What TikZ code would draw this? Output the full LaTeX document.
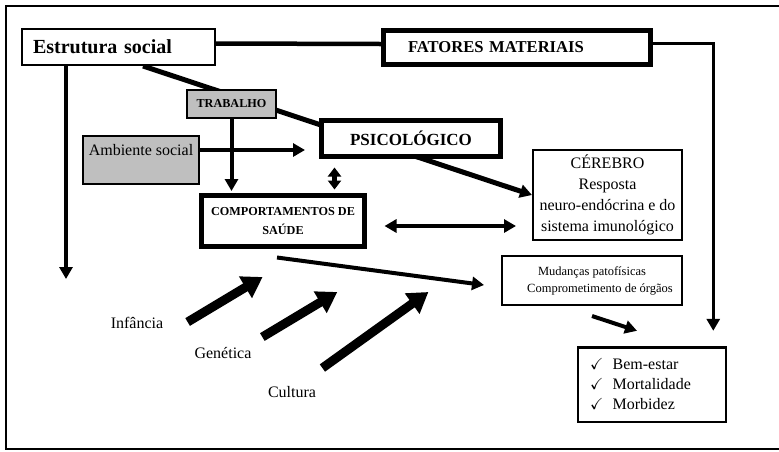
\documentclass[tikz,border=0pt]{standalone}
\usepackage{amssymb}
\usepackage{fontspec}
\setmainfont{Liberation Serif}
\usetikzlibrary{arrows.meta,calc,backgrounds}

\begin{document}
\begin{tikzpicture}[x=0.5pt,y=-0.5pt,>={Triangle[length=6pt,width=6.5pt]},
                    box/.style={draw,line width=1pt,fill=white,inner sep=0pt},
                    heavybox/.style={draw,line width=2.5pt,fill=white,inner sep=0pt},
                    greybox/.style={box,fill=black!25},
                    link/.style={line width=2.25pt},
                    factor/.style={inner sep=0pt,font=\fontsize{8}{10}\selectfont},
                    bigarrow/.style={line width=4.5pt,-{Triangle[length=10pt,width=12pt]}}]

 \useasboundingbox (0,0) rectangle (779,451);
 \draw [line width=0.75pt] (779,6) -- (6,6) -- (6,449) -- (779,449);

 \node [box,minimum height=18pt,text width=85.5pt,inner xsep=5.5pt,align=left,
        font=\fontsize{10}{12}\selectfont\bfseries] (est) at (118.5,47) {Estrutura social};
 \node [heavybox,minimum height=17pt,text width=109pt,inner xsep=12.25pt,align=left,
        font=\fontsize{8.3}{10}\selectfont\bfseries] (fat) at (517,47.5) {FATORES MATERIAIS};
 \node [greybox,minimum width=44.5pt,minimum height=14pt,
        font=\fontsize{6.1}{7}\selectfont\bfseries] (tra) at (231.5,104) {TRABALHO};
 \node [greybox,minimum width=58pt,inner ysep=3pt,text height=6.5pt,text depth=11.5pt,
        font=\fontsize{8}{10}\selectfont] (amb) at (141,160) {Ambiente social};
 \node [heavybox,minimum width=89.5pt,minimum height=18pt,
        font=\fontsize{8.5}{10}\selectfont\bfseries] (psi) at (411,138.5) {PSICOLÓGICO};
 \node [heavybox,minimum width=81.5pt,minimum height=25.5pt,align=center,
        font=\fontsize{6.1}{9.5}\selectfont\bfseries] (comp) at (283,221) {COMPORTAMENTOS DE\\SAÚDE};
 \node [box,minimum width=74.5pt,minimum height=45pt,align=center,
        font=\fontsize{8}{10.5}\selectfont] (cer) at (607.5,195)
       {CÉREBRO\\Resposta\\neuro-endócrina e do\\sistema imunológico};
 \node [box,minimum width=90pt,minimum height=24.5pt,align=center,
        font=\fontsize{6.25}{8.5}\selectfont] (mud) at (592,280.5)
       {Mudanças patofísicas\\\hspace{8pt}Comprometimento de órgãos};
 \node [box,line width=1.25pt,minimum height=37.25pt,text width=62pt,inner xsep=5.9pt,
        align=left,font=\fontsize{8}{10}\selectfont] (bem) at (652,384.5)
       {$\checkmark$\hspace{2pt} Bem-estar\\$\checkmark$\hspace{2pt} Mortalidade\\$\checkmark$\hspace{2pt} Morbidez};

 \node [factor] (inf) at (137,323) {Infância};
 \node [factor] (gen) at (223,353) {Genética};
 \node [factor] (cul) at (292,392) {Cultura};

 \coordinate (lf) at (66,279);

 \begin{scope}[on background layer]
  \draw [link] ([yshift=1.75pt]est.east) -- ([yshift=1.75pt]fat.west);
  \draw [link,line width=2.5pt,->] ($(est.south)+(12.25pt,0)$) -- (cer.west);
 \end{scope}

 \draw [link,line width=1.75pt,->] ([yshift=2pt]fat.east) -| ($(bem.north east)+(-6.9pt,7.6pt)$);
 \draw [link,->] (est.south -| lf) -- (lf);
 \draw [link,->] ($(amb.east)+(0,5pt)$) -- ($(amb.east -| psi.west)+(-7pt,5pt)$);
 \draw [link,line width=2pt,->,shorten >=1pt] (tra.south) -- (tra.south |- comp.north);
 \draw [link,line width=2.25pt,{Triangle[length=4.5pt,width=6.5pt]}-{Triangle[length=4.5pt,width=6.5pt]}]
       ($(psi.south west)+(7.75pt,-4.25pt)$)
       -- ($(psi.south west |- comp.north)+(7.75pt,1.75pt)$);
 \draw [link,line width=2pt,<->] ($(comp.east)+(8.75pt,-2.5pt)$)
       -- ($(comp.east -| cer.west)+(-8pt,-2.5pt)$);
 \draw [link,line width=2pt,->] ($(comp.south)+(-3pt,-4.25pt)$) -- ($(mud.west)+(-8.5pt,-2.25pt)$);
 \draw [link,line width=2pt,->] ($(mud.south)+(0,-5pt)$) -- ($(bem.north)+(-7.5pt,7.6pt)$);

 \draw [bigarrow] ($(inf.east)+(12pt,0.5pt)$) -- ($(inf.east)+(49.5pt,23pt)$);
 \draw [bigarrow] ($(gen.east)+(5.25pt,8pt)$) -- ($(gen.east)+(42.75pt,30.5pt)$);
 \draw [bigarrow] ($(cul.east)+(3pt,12pt)$) -- ($(cul.east)+(56pt,50pt)$);

\end{tikzpicture}
\end{document}
